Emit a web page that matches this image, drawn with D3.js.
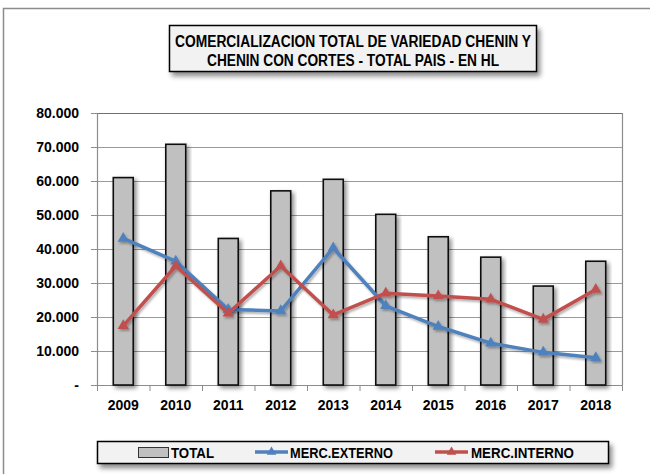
<!DOCTYPE html>
<html>
<head>
<meta charset="utf-8">
<script src="https://cdn.jsdelivr.net/npm/d3@7"></script>
<style>
  html, body { margin: 0; padding: 0; background: #fff; }
  svg { display: block; }
</style>
</head>
<body>
<svg id="chart" width="650" height="474"></svg>
<script>
const years = ["2009","2010","2011","2012","2013","2014","2015","2016","2017","2018"];
const total = [61000, 70800, 43100, 57100, 60500, 50200, 43600, 37600, 29100, 36400];
const mercExterno = [43100, 36400, 22200, 21800, 40300, 23300, 17200, 12300, 9600, 8000];
const mercInterno = [17400, 35000, 21100, 35000, 20600, 27000, 26200, 25200, 19300, 28100];
const yTicks = [0, 10000, 20000, 30000, 40000, 50000, 60000, 70000, 80000];
const titleLines = ["COMERCIALIZACION TOTAL DE VARIEDAD CHENIN Y", "CHENIN CON CORTES - TOTAL PAIS - EN HL"];
const seriesNames = ["TOTAL", "MERC.EXTERNO", "MERC.INTERNO"];
const blue = "#4F81BD", red = "#C0504D";

const svg = d3.select("#chart");
const defs = svg.append("defs");
const f1 = defs.append("filter").attr("id","sh").attr("x","-30%").attr("y","-30%").attr("width","160%").attr("height","160%");
f1.append("feDropShadow").attr("dx",2.5).attr("dy",2.5).attr("stdDeviation",2).attr("flood-color","#000").attr("flood-opacity",0.45);
const f2 = defs.append("filter").attr("id","shb").attr("x","-10%").attr("y","-30%").attr("width","120%").attr("height","180%");
f2.append("feDropShadow").attr("dx",3).attr("dy",4).attr("stdDeviation",2.5).attr("flood-color","#000").attr("flood-opacity",0.45);
const f3 = defs.append("filter").attr("id","shl").attr("x","-10%").attr("y","-30%").attr("width","120%").attr("height","160%");
f3.append("feDropShadow").attr("dx",1.5).attr("dy",2).attr("stdDeviation",1.2).attr("flood-color","#000").attr("flood-opacity",0.3);

// outer frame
svg.append("rect").attr("x",3.5).attr("y",8.5).attr("width",700).attr("height",500)
  .attr("fill","#fff").attr("stroke","#8c8c8c").attr("stroke-width",1.5);

const m = {left: 97, right: 622, top: 113, bottom: 385};
const x = d3.scaleBand().domain(years).range([m.left, m.right]).paddingInner(0.62).paddingOuter(0.31);
const xb = d3.scaleBand().domain(years).range([m.left, m.right]);
const y = d3.scaleLinear().domain([0, 80000]).range([m.bottom, m.top]);

// gridlines
svg.append("g").selectAll("line").data(yTicks.slice(1)).join("line")
  .attr("x1", m.left).attr("x2", m.right)
  .attr("y1", d => Math.round(y(d)) + 0.5).attr("y2", d => Math.round(y(d)) + 0.5)
  .attr("stroke", "#9a9a9a").attr("stroke-width", 1);
svg.append("line").attr("x1", m.right+0.5).attr("x2", m.right+0.5).attr("y1", m.top).attr("y2", m.bottom)
  .attr("stroke","#8c8c8c").attr("stroke-width",1.2);
svg.append("line").attr("x1", m.left).attr("x2", m.right).attr("y1", m.top+0.5).attr("y2", m.top+0.5)
  .attr("stroke","#707070").attr("stroke-width",1.2);

const fmt = d => d === 0 ? "-" : d3.format(",")(d).replace(/,/g, ".");
const axFont = "'Liberation Sans', Arial, sans-serif";

// y axis
const yAxis = svg.append("g").attr("transform", `translate(${m.left},0)`)
  .call(d3.axisLeft(y).tickValues(yTicks).tickSize(6).tickPadding(12).tickFormat(fmt));
yAxis.select(".domain").attr("stroke","#8c8c8c").attr("stroke-width",1.2);
yAxis.selectAll(".tick line").attr("stroke","#8c8c8c");
yAxis.selectAll("text").attr("font-family",axFont)
  .attr("font-weight","bold").attr("font-size","14px").attr("fill","#000");

// x axis
const xAxis = svg.append("g").attr("transform", `translate(0,${m.bottom})`)
  .call(d3.axisBottom(xb).tickSize(0).tickPadding(15));
xAxis.select(".domain").attr("stroke","#8c8c8c").attr("stroke-width",1.2);
xAxis.selectAll("text").attr("font-family",axFont)
  .attr("font-weight","bold").attr("font-size","14px").attr("fill","#000");
svg.append("g").selectAll("line").data(years.concat(["end"])).join("line")
  .attr("x1", (d,i) => m.left + i*xb.step() + 0.5).attr("x2", (d,i) => m.left + i*xb.step() + 0.5)
  .attr("y1", m.bottom).attr("y2", m.bottom + 6).attr("stroke","#8c8c8c");

// bars
svg.append("g").selectAll("rect").data(total).join("rect")
  .attr("x", (d,i) => x(years[i])).attr("width", x.bandwidth())
  .attr("y", d => y(d)).attr("height", d => y(0) - y(d))
  .attr("fill","#c0c0c0").attr("stroke","#111").attr("stroke-width",1.6)
  .attr("filter","url(#sh)");

// lines
const line = d3.line().x((d,i) => xb(years[i]) + xb.bandwidth()/2).y(d => y(d));
const tri = d3.symbol().type(d3.symbolTriangle).size(55);
function drawSeries(data, color) {
  const g = svg.append("g").attr("filter","url(#shl)");
  g.append("path").datum(data).attr("d", line).attr("fill","none")
    .attr("stroke", color).attr("stroke-width", 3.5).attr("stroke-linejoin","round");
  g.selectAll("path.m").data(data).join("path").attr("class","m")
    .attr("d", tri)
    .attr("transform", (d,i) => `translate(${xb(years[i]) + xb.bandwidth()/2},${y(d)})`)
    .attr("fill", color);
}
drawSeries(mercExterno, blue);
drawSeries(mercInterno, red);

// title box
const titleWidths = [356, 292];
const tb = svg.append("g");
tb.append("rect").attr("x",169.5).attr("y",25.5).attr("width",367).attr("height",46)
  .attr("fill","#f2f2f2").attr("stroke","#000").attr("stroke-width",1.5).attr("filter","url(#shb)");
tb.selectAll("text").data(titleLines).join("text")
  .attr("x", 353).attr("y", (d,i) => 46.5 + i*19.5)
  .attr("text-anchor","middle")
  .attr("font-family",axFont)
  .attr("font-weight","bold").attr("font-size","16px").attr("fill","#000")
  .attr("textLength", (d,i) => titleWidths[i]).attr("lengthAdjust","spacingAndGlyphs")
  .text(d => d);

// legend
const lg = svg.append("g");
lg.append("rect").attr("x",97.5).attr("y",441.5).attr("width",511).attr("height",22)
  .attr("fill","#f2f2f2").attr("stroke","#000").attr("stroke-width",1.5).attr("filter","url(#shb)");
lg.append("rect").attr("x",138.5).attr("y",447.5).attr("width",30).attr("height",10)
  .attr("fill","#c0c0c0").attr("stroke","#333").attr("stroke-width",1);
const legendX = [171, 290, 471];
const legendW = [43, 103, 103];
lg.selectAll("text").data(seriesNames).join("text")
  .attr("x",(d,i) => legendX[i]).attr("y",457.5)
  .attr("font-family",axFont).attr("font-weight","bold").attr("font-size","14.5px").attr("fill","#000")
  .attr("textLength",(d,i) => legendW[i]).attr("lengthAdjust","spacingAndGlyphs")
  .text(d => d);
[[255, blue],[435, red]].forEach(([lx, c]) => {
  lg.append("line").attr("x1",lx).attr("x2",lx+33).attr("y1",452).attr("y2",452)
    .attr("stroke",c).attr("stroke-width",3.5);
  lg.append("path").attr("d", d3.symbol().type(d3.symbolTriangle).size(40)())
    .attr("transform",`translate(${lx+16.5},452)`).attr("fill",c);
});
</script>
</body>
</html>
